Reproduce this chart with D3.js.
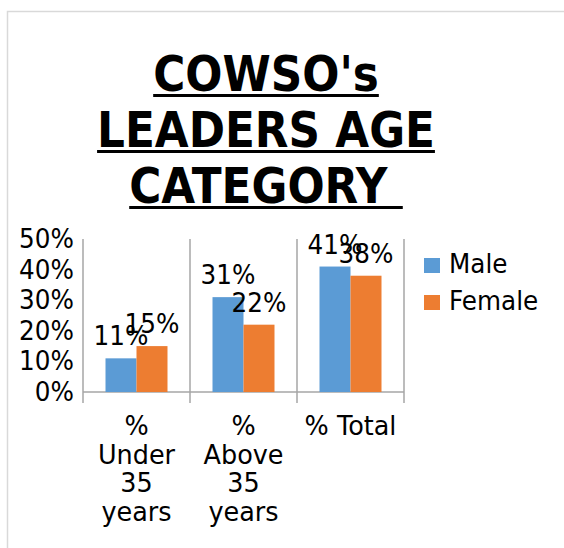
<!DOCTYPE html>
<html>
<head>
<meta charset="utf-8">
<script src="https://cdn.jsdelivr.net/npm/d3@7"></script>
<style>
  body { margin: 0; background: #fff; }
  text { font-family: "DejaVu Sans", sans-serif; fill: #000; }
</style>
</head>
<body>
<svg id="chart" width="564" height="548"></svg>
<script>
// data
const categories = ["% Under 35 years", "% Above 35 years", "% Total"];
const categoryLines = [["%", "Under", "35", "years"], ["%", "Above", "35", "years"], ["% Total"]];
const seriesNames = ["Male", "Female"];
const male = [0.11, 0.31, 0.41];
const female = [0.15, 0.22, 0.38];
const yTicks = [0, 0.1, 0.2, 0.3, 0.4, 0.5];
const titleLines = ["COWSO's", "LEADERS AGE", "CATEGORY "];

const colors = { Male: "#5B9BD5", Female: "#ED7D31" };
const sx = 0.95;   // text in the picture is slightly narrow

const svg = d3.select("#chart");

// outer frame
svg.append("rect")
    .attr("x", 7.5).attr("y", 11.5)
    .attr("width", 570).attr("height", 560)
    .attr("fill", "none")
    .attr("stroke", "#d9d9d9")
    .attr("stroke-width", 1.5);

function label(x, y, str, size, anchor, scale) {
    const g = svg.append("g")
        .attr("transform", `translate(${x},${y}) scale(${scale || sx},1)`);
    const t = g.append("text")
        .attr("text-anchor", anchor || "middle")
        .style("font-size", size + "px")
        .style("white-space", "pre")
        .text(str);
    return t;
}

// title with underlines
const titleScale = 0.875;
titleLines.forEach(function (line, i) {
    const base = 91 + i * 56;
    const t = label(266, base, line, 50, "middle", titleScale).style("font-weight", "bold");
    const w = t.node().getComputedTextLength() * titleScale;
    svg.append("rect")
        .attr("x", 266 - w / 2).attr("y", base + 3)
        .attr("width", w).attr("height", 3)
        .attr("fill", "#000");
});

// scales
const x = d3.scaleBand().domain(categories).range([83, 404]);
const xs = d3.scaleBand().domain(seriesNames).range([0, x.bandwidth()]).paddingOuter(0.726);
const y = d3.scaleLinear().domain([0, 0.5]).range([392, 239]);

// vertical separators
const bounds = categories.map(c => x(c)).concat([x.range()[1]]);
svg.selectAll(".sep").data(bounds).enter().append("line")
    .attr("x1", d => d).attr("x2", d => d)
    .attr("y1", y(0.5)).attr("y2", y(0) + 11)
    .attr("stroke", "#a6a6a6").attr("stroke-width", 1.5);

// x axis line
svg.append("line")
    .attr("x1", x.range()[0]).attr("x2", x.range()[1])
    .attr("y1", y(0)).attr("y2", y(0))
    .attr("stroke", "#a6a6a6").attr("stroke-width", 1.5);

// y tick labels
const fmt = d3.format(".0%");
yTicks.forEach(function (v) {
    label(74, y(v) + 9, fmt(v), 26, "end");
});

// bars
const rows = [];
categories.forEach(function (c, i) {
    rows.push({ cat: c, s: "Male", v: male[i] });
    rows.push({ cat: c, s: "Female", v: female[i] });
});

svg.selectAll(".bar").data(rows).enter().append("rect")
    .attr("x", d => x(d.cat) + xs(d.s))
    .attr("y", d => y(d.v))
    .attr("width", xs.bandwidth())
    .attr("height", d => y(0) - y(d.v))
    .attr("fill", d => colors[d.s]);

// data labels
rows.forEach(function (d) {
    label(x(d.cat) + xs(d.s) + xs.bandwidth() / 2, y(d.v) - 13, fmt(d.v), 26, "middle");
});

// category labels
categories.forEach(function (c, i) {
    categoryLines[i].forEach(function (line, j) {
        label(x(c) + x.bandwidth() / 2, 435 + j * 28.5, line, 26, "middle", 0.98);
    });
});

// legend
seriesNames.forEach(function (s, i) {
    const ly = 258 + i * 37;
    svg.append("rect")
        .attr("x", 424).attr("y", ly)
        .attr("width", 16).attr("height", 15)
        .attr("fill", colors[s]);
    label(449, ly + 15, s, 26, "start");
});
</script>
</body>
</html>
